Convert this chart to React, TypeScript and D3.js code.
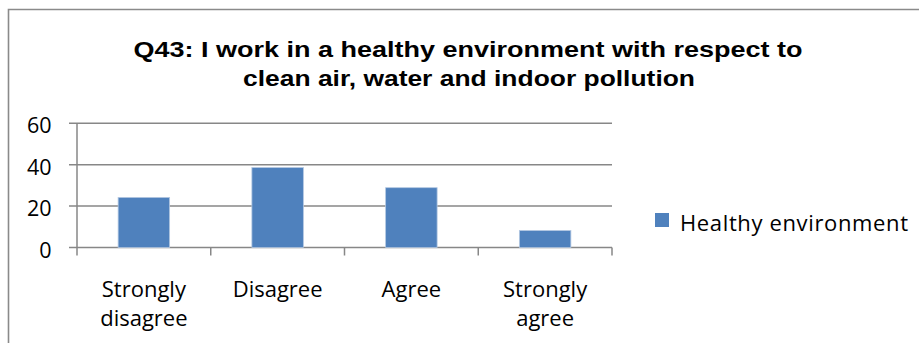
import React from "react";
import * as d3 from "d3";

const categories = ["Strongly disagree", "Disagree", "Agree", "Strongly agree"];
const categoryLines = [["Strongly", "disagree"], ["Disagree"], ["Agree"], ["Strongly", "agree"]];
const values = [24.2, 38.6, 28.9, 8.2];
const yTicks = [0, 20, 40, 60];
const seriesName = "Healthy environment";
const titleLines = [
  "Q43: I work in a healthy environment with respect to",
  "clean air, water and indoor pollution",
];

const W = 919;
const H = 343;
const plot = { left: 77, right: 612, top: 123.3, bottom: 247.5 };
const gridColor = "#878787";
const barColor = "#4f81bd";
const bodyFont = "'Open Sans', 'Noto Sans', sans-serif";

export default function App() {
  const x = d3
    .scaleBand<string>()
    .domain(categories)
    .range([plot.left, plot.right])
    .paddingInner(0.615)
    .paddingOuter(0.3075);
  const y = d3.scaleLinear().domain([0, 60]).range([plot.bottom, plot.top]);
  const step = x.step();
  const boundaries = d3.range(categories.length + 1).map((i) => plot.left + i * step);

  return (
    <svg
      width={W}
      height={H}
      style={{ position: "fixed", left: 0, top: 0, background: "#fff" }}
    >
      {/* chart frame */}
      <path
        d={`M8.5,${H + 2} V9.5 H${W + 2}`}
        fill="none"
        stroke="#8a8a8a"
        strokeWidth={1.6}
      />

      {/* title */}
      <g
        fontFamily="'Liberation Sans', Arial, sans-serif"
        fontWeight="bold"
        fontSize={22}
        textAnchor="middle"
        fill="#000"
      >
        <text x={468} y={57} textLength={669} lengthAdjust="spacingAndGlyphs">
          {titleLines[0]}
        </text>
        <text x={469} y={86} textLength={452} lengthAdjust="spacingAndGlyphs">
          {titleLines[1]}
        </text>
      </g>

      {/* gridlines and y ticks */}
      {yTicks.map((t) => (
        <g key={t}>
          <line
            x1={plot.left - 8}
            x2={plot.right}
            y1={y(t)}
            y2={y(t)}
            stroke={gridColor}
            strokeWidth={1.5}
          />
          <text
            x={51.5}
            y={y(t) + 10}
            textAnchor="end"
            fontFamily={bodyFont}
            fontSize={21.5}
            fill="#000"
          >
            {t}
          </text>
        </g>
      ))}

      {/* y axis */}
      <line
        x1={plot.left}
        x2={plot.left}
        y1={plot.top}
        y2={plot.bottom}
        stroke={gridColor}
        strokeWidth={1.5}
      />

      {/* category tick marks */}
      {boundaries.map((bx, i) => (
        <line
          key={i}
          x1={bx}
          x2={bx}
          y1={plot.bottom}
          y2={plot.bottom + 8}
          stroke={gridColor}
          strokeWidth={1.5}
        />
      ))}

      {/* bars */}
      {categories.map((c, i) => (
        <rect
          key={c}
          x={x(c)!}
          y={y(values[i])}
          width={x.bandwidth()}
          height={y(0) - y(values[i])}
          fill={barColor}
          stroke="#b4c8e2"
          strokeWidth={0.8}
        />
      ))}

      {/* category labels */}
      {categories.map((c, i) => (
        <text
          key={c}
          textAnchor="middle"
          fontFamily={bodyFont}
          fontSize={22}
          fill="#000"
        >
          {categoryLines[i].map((line, j) => (
            <tspan key={j} x={x(c)! + x.bandwidth() / 2} y={296.5 + j * 29}>
              {line}
            </tspan>
          ))}
        </text>
      ))}

      {/* legend */}
      <rect x={655} y={213} width={14} height={14} fill={barColor} />
      <text
        x={680}
        y={230.5}
        fontFamily={bodyFont}
        fontSize={22}
        fill="#000"
        textLength={228}
        lengthAdjust="spacing"
      >
        {seriesName}
      </text>
    </svg>
  );
}
